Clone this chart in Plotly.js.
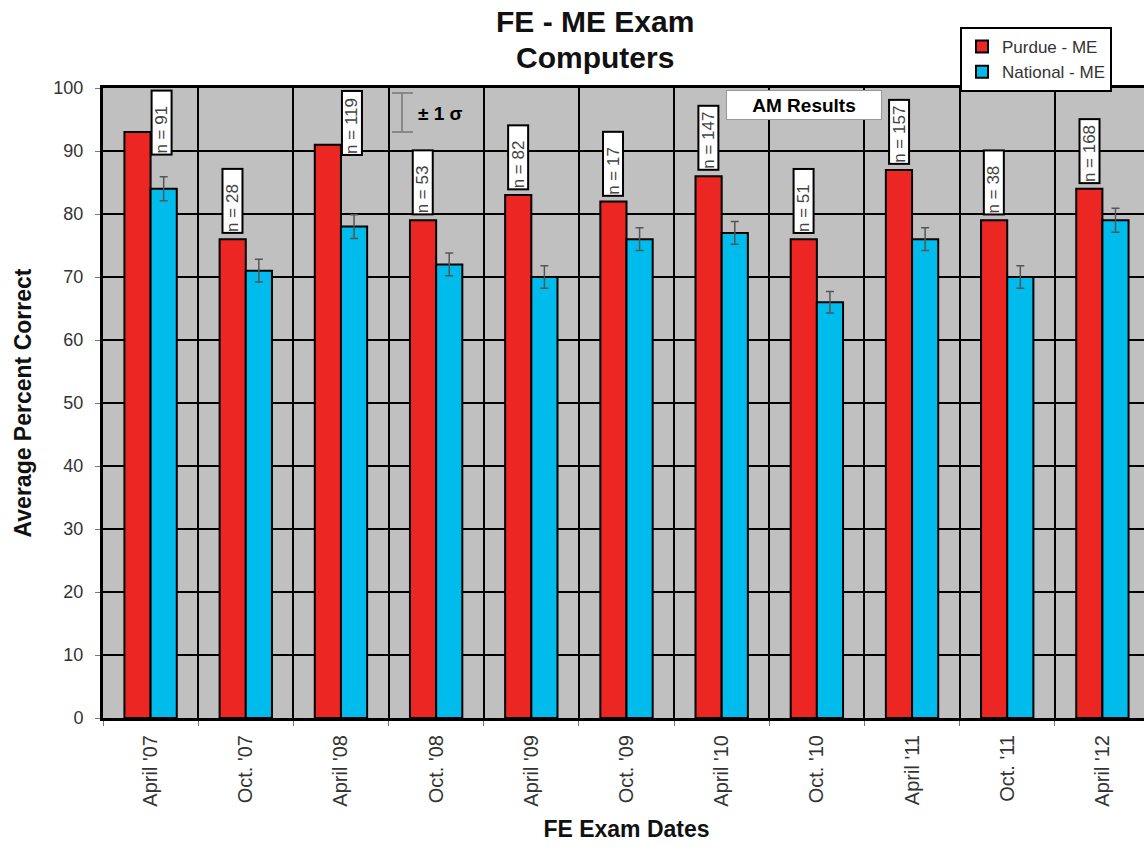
<!DOCTYPE html>
<html>
<head>
<meta charset="utf-8">
<script src="https://cdn.plot.ly/plotly-3.0.1.min.js"></script>
<style>
  html, body { margin: 0; padding: 0; overflow: hidden; background: #fff; width: 1144px; height: 850px; }
  #chart { width: 1160px; height: 850px; }
</style>
</head>
<body>
<div id="chart"></div>
<script>
// ---- data ----
const examDates = ["April '07", "Oct. '07", "April '08", "Oct. '08", "April '09", "Oct. '09",
                   "April '10", "Oct. '10", "April '11", "Oct. '11", "April '12"];
const purdueME   = [93, 76, 91, 79, 83, 82, 86, 76, 87, 79, 84];
const nationalME = [84, 71, 78, 72, 70, 76, 77, 66, 76, 70, 79];
const nationalSigma = [1.9, 1.8, 1.9, 1.8, 1.8, 1.8, 1.8, 1.7, 1.8, 1.8, 1.9];
const sampleSizes = [91, 28, 119, 53, 82, 17, 147, 51, 157, 38, 168];
const yTicks = [0, 10, 20, 30, 40, 50, 60, 70, 80, 90, 100];
const titleLines = ["FE - ME Exam", "Computers"];

const FONT = "Liberation Sans, Arial, sans-serif";
const RED = "#ec2623";
const BLUE = "#00bcec";

const W = 1160, H = 850;
const M = {l: 103, r: 10, t: 88, b: 132};
const plotW = W - M.l - M.r, plotH = H - M.t - M.b;
const catW = plotW / examDates.length;
const pxPerUnit = plotH / 100;
const pxToPaperX = p => (p - M.l) / plotW;
const pxToPaperY = p => (H - M.b - p) / plotH;

const traces = [
  {
    type: "bar", name: "Purdue - ME", x: examDates, y: purdueME,
    marker: {color: RED, line: {color: "#000", width: 2}},
    legendgroup: "a"
  },
  {
    type: "bar", name: "National - ME", x: examDates, y: nationalME,
    marker: {color: BLUE, line: {color: "#000", width: 2}},
    error_y: {type: "data", array: nationalSigma, visible: true, color: "#555", thickness: 1.5, width: 4},
    legendgroup: "b"
  }
];

// n = ... labels (rotated boxes)
const boxLenPx = 66, barW = catW * 0.55 / 2;
const annotations = [];
examDates.forEach((d, i) => {
  const topPx = (purdueME[i]) * pxPerUnit + 5 + boxLenPx;
  const fits = topPx <= 100 * pxPerUnit;
  const a = {
    x: d, xref: "x", yref: "y",
    text: "n = " + sampleSizes[i],
    textangle: -90, showarrow: false,
    font: {family: FONT, size: 17, color: "#444"},
    bgcolor: "#fff", bordercolor: "#000", borderwidth: 2, borderpad: 0,
    width: 62, height: 18, align: "left", valign: "middle"
  };
  if (fits) {
    a.y = purdueME[i]; a.yanchor = "bottom"; a.yshift = 5;
    a.xshift = -barW / 2; a.xanchor = "center";
  } else {
    a.y = 100; a.yanchor = "top"; a.yshift = -2;
    a.xshift = 11; a.xanchor = "center";
  }
  annotations.push(a);
});

// title lines
titleLines.forEach((t, i) => {
  annotations.push({
    x: pxToPaperX(595), xref: "paper", xanchor: "center",
    y: pxToPaperY(i === 0 ? 22 : 58), yref: "paper", yanchor: "middle",
    text: "<b>" + t + "</b>", showarrow: false,
    font: {family: FONT, size: 30, color: "#111"}
  });
});

// sigma key text
annotations.push({
  x: pxToPaperX(416), xref: "paper", xanchor: "left",
  y: (718 - 113) / pxPerUnit, yref: "y", yanchor: "middle",
  text: "<b>± 1 σ</b>", showarrow: false,
  font: {family: FONT, size: 19, color: "#000"}
});
// AM Results box
annotations.push({
  x: pxToPaperX(804), xref: "paper", xanchor: "center",
  y: (718 - 104.5) / pxPerUnit, yref: "y", yanchor: "middle",
  text: "<b>AM Results</b>", showarrow: false,
  font: {family: FONT, size: 19, color: "#000"},
  bgcolor: "#fff", bordercolor: "#999", borderwidth: 1, borderpad: 0,
  width: 154, height: 28
});

const sigTop = (718 - 93) / pxPerUnit, sigBot = (718 - 132) / pxPerUnit;
const shapes = [
  {type: "line", xref: "paper", yref: "y", x0: pxToPaperX(402), x1: pxToPaperX(402), y0: sigBot, y1: sigTop, line: {color: "#888", width: 2}},
  {type: "line", xref: "paper", yref: "y", x0: pxToPaperX(392), x1: pxToPaperX(413), y0: sigTop, y1: sigTop, line: {color: "#888", width: 2}},
  {type: "line", xref: "paper", yref: "y", x0: pxToPaperX(392), x1: pxToPaperX(413), y0: sigBot, y1: sigBot, line: {color: "#888", width: 2}}
];

const layout = {
  width: W, height: H,
  margin: M,
  paper_bgcolor: "#fff", plot_bgcolor: "#c0c0c0",
  font: {family: FONT, color: "#333"},
  barmode: "group", bargap: 0.45, bargroupgap: 0,
  xaxis: {
    type: "category",
    tickangle: -90, tickfont: {family: FONT, size: 20, color: "#333"},
    ticks: "outside", ticklen: 5, tickcolor: "#777", tickson: "boundaries",
    showgrid: true, gridcolor: "#000", gridwidth: 2,
    showline: true, linecolor: "#000", linewidth: 3, mirror: true,
    ticklabelstandoff: 6,
    title: {text: "<b>FE Exam Dates</b>", font: {family: FONT, size: 23, color: "#111"}, standoff: 16}
  },
  yaxis: {
    range: [0, 100], tickvals: yTicks, ticktext: yTicks.map(String),
    tickfont: {family: FONT, size: 18, color: "#333"},
    ticks: "outside", ticklen: 5, tickcolor: "#777",
    showgrid: true, gridcolor: "#000", gridwidth: 2,
    showline: true, linecolor: "#000", linewidth: 3, mirror: true,
    zeroline: false, ticklabelstandoff: 8,
    title: {text: "<b>Average Percent Correct</b>", font: {family: FONT, size: 23, color: "#111"}, standoff: 16}
  },
  showlegend: true,
  legend: {
    x: pxToPaperX(960), xanchor: "left",
    y: pxToPaperY(27), yanchor: "top",
    bgcolor: "#fff", bordercolor: "#000", borderwidth: 2,
    font: {family: FONT, size: 17, color: "#333"},
    tracegroupgap: 0, itemwidth: 30
  },
  annotations: annotations,
  shapes: shapes
};

Plotly.newPlot("chart", traces, layout, {displayModeBar: false, staticPlot: true});
</script>
</body>
</html>
